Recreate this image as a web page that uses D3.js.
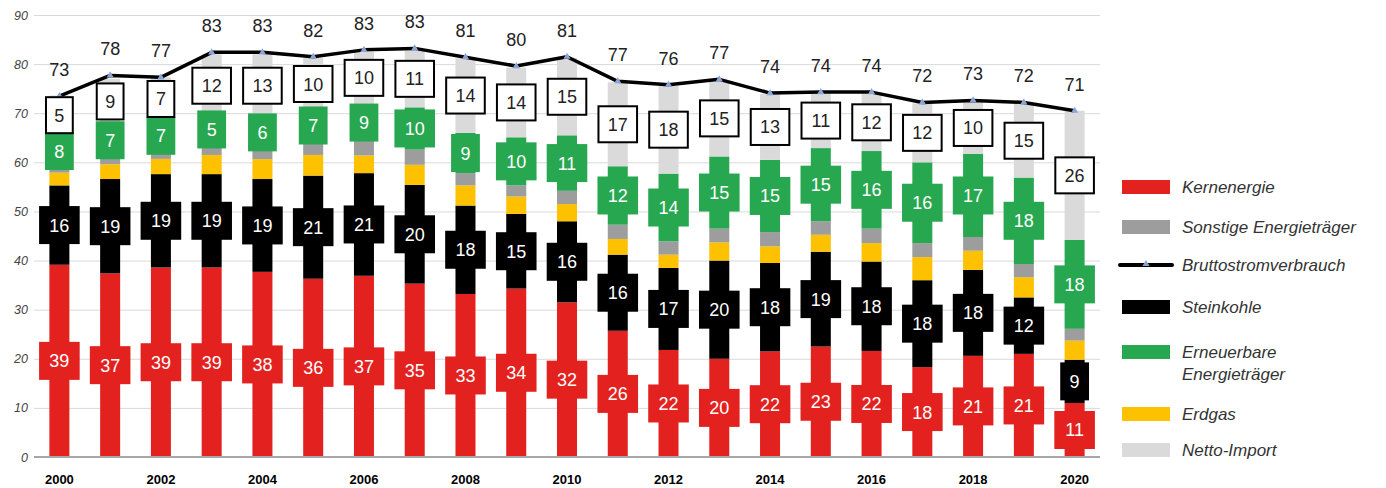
<!DOCTYPE html>
<html>
<head>
<meta charset="utf-8">
<script src="https://cdn.jsdelivr.net/npm/d3@7"></script>
<style>
  body { margin: 0; background: #fff; }
  svg { display: block; font-family: 'Liberation Sans', Arial, sans-serif; }
</style>
</head>
<body>
<div id="chart"></div>
<script>
// Data (TWh)
const years = d3.range(2000, 2021);
const kern = [39.15, 37.4, 38.6, 38.6, 37.7, 36.3, 36.9, 35.3, 33.2, 34.3, 31.5, 25.7, 21.8, 20.0, 21.5, 22.5, 21.6, 18.3, 20.6, 21.0, 11.0];
const steinkohle = [16.15, 19.2, 19.0, 19.0, 18.9, 21.0, 20.9, 20.1, 18.0, 15.2, 16.5, 15.5, 16.7, 20.0, 18.0, 19.3, 18.2, 17.7, 17.5, 11.5, 8.8];
const erdgas = [2.6, 3.0, 3.1, 3.9, 4.05, 4.2, 3.6, 4.1, 4.1, 3.55, 3.5, 3.2, 2.7, 3.7, 3.4, 3.45, 3.75, 4.7, 3.9, 4.1, 3.9];
const sonstige = [1.1, 1.6, 1.6, 2.7, 2.35, 2.9, 2.9, 3.1, 2.5, 2.25, 2.7, 2.9, 2.7, 2.8, 2.9, 2.75, 2.95, 2.85, 2.8, 2.7, 2.4];
const erneuerbar = [6.6, 6.6, 6.2, 5.0, 6.2, 6.2, 7.6, 8.6, 8.2, 9.8, 11.3, 11.9, 13.8, 14.7, 14.7, 14.9, 15.8, 16.45, 16.9, 17.6, 18.1];
const nettoImport = [8.0, 9.2, 8.8, 12.8, 12.8, 10.7, 10.6, 11.6, 15.2, 14.2, 15.7, 17.1, 17.9, 15.5, 13.4, 11.2, 11.7, 12.0, 10.6, 15.0, 26.3];
const brutto = [73.5, 77.7, 77.3, 82.4, 82.4, 81.5, 82.9, 83.2, 81.4, 79.6, 81.5, 76.5, 75.8, 76.9, 74.1, 74.3, 74.3, 72.2, 72.6, 72.2, 70.5];

// Printed labels
const kernLabels = [39, 37, 39, 39, 38, 36, 37, 35, 33, 34, 32, 26, 22, 20, 22, 23, 22, 18, 21, 21, 11];
const steinLabels = [16, 19, 19, 19, 19, 21, 21, 20, 18, 15, 16, 16, 17, 20, 18, 19, 18, 18, 18, 12, 9];
const erneuerbarLabels = [8, 7, 7, 5, 6, 7, 9, 10, 9, 10, 11, 12, 14, 15, 15, 15, 16, 16, 17, 18, 18];
const importLabels = [5, 9, 7, 12, 13, 10, 10, 11, 14, 14, 15, 17, 18, 15, 13, 11, 12, 12, 10, 15, 26];
const bruttoLabels = [73, 78, 77, 83, 83, 82, 83, 83, 81, 80, 81, 77, 76, 77, 74, 74, 74, 72, 73, 72, 71];
const yTicks = [0, 10, 20, 30, 40, 50, 60, 70, 80, 90];
const xTicks = [2000, 2002, 2004, 2006, 2008, 2010, 2012, 2014, 2016, 2018, 2020];

// Colors
const colors = {
  kern: '#e3211f',
  steinkohle: '#000000',
  erdgas: '#fdc100',
  sonstige: '#9d9d9d',
  erneuerbar: '#27a850',
  nettoImport: '#d9dad9',
};

const keys = ['kern', 'steinkohle', 'erdgas', 'sonstige', 'erneuerbar', 'nettoImport'];
const table = years.map((yr, i) => ({
  year: yr,
  kern: kern[i],
  steinkohle: steinkohle[i],
  erdgas: erdgas[i],
  sonstige: sonstige[i],
  erneuerbar: erneuerbar[i],
  nettoImport: nettoImport[i],
}));

const width = 1386;
const height = 488;
const plotLeft = 34, plotRight = 1100, plotTop = 15, plotBottom = 457;

const svg = d3.select('#chart').append('svg')
  .attr('width', width)
  .attr('height', height);

const x = d3.scaleBand()
  .domain(years)
  .range([plotLeft, plotRight])
  .paddingInner(0.606)
  .paddingOuter(0.303);

const y = d3.scaleLinear()
  .domain([0, 90])
  .range([plotBottom, plotTop]);

const cx = (yr) => x(yr) + x.bandwidth() / 2;

// Grid + y labels
const yAxis = svg.append('g')
  .attr('transform', `translate(${plotLeft},0)`)
  .call(d3.axisLeft(y).tickValues(yTicks).tickSize(-(plotRight - plotLeft)).tickPadding(6));
yAxis.select('.domain').remove();
yAxis.selectAll('line').attr('stroke', '#d9d9d9');
yAxis.selectAll('text')
  .attr('font-size', 12.5)
  .attr('font-style', 'italic')
  .attr('fill', '#444')
  .attr('font-family', "'Liberation Sans', Arial, sans-serif");

// Stacked bars
const stacked = d3.stack().keys(keys)(table);
svg.append('g')
  .selectAll('g')
  .data(stacked)
  .join('g')
  .attr('fill', (s) => colors[s.key])
  .selectAll('rect')
  .data((s) => s)
  .join('rect')
  .attr('x', (d) => x(d.data.year))
  .attr('width', x.bandwidth())
  .attr('y', (d) => y(d[1]))
  .attr('height', (d) => y(d[0]) - y(d[1]));

// Baseline
svg.append('line')
  .attr('x1', plotLeft).attr('x2', plotRight)
  .attr('y1', y(0)).attr('y2', y(0))
  .attr('stroke', '#a6a6a6')
  .attr('stroke-width', 2);

// Bruttostromverbrauch line
const line = d3.line()
  .x((d, i) => cx(years[i]))
  .y((d) => y(d));
svg.append('path')
  .datum(brutto)
  .attr('d', line)
  .attr('fill', 'none')
  .attr('stroke', '#000')
  .attr('stroke-width', 3.5)
  .attr('stroke-linejoin', 'round');
svg.append('g')
  .selectAll('path')
  .data(brutto)
  .join('path')
  .attr('d', d3.symbol(d3.symbolTriangle, 22))
  .attr('transform', (d, i) => `translate(${cx(years[i])},${y(d)})`)
  .attr('fill', '#8aa4d6');

// Label boxes
const labelled = [
  { key: 'kern', labels: kernLabels },
  { key: 'steinkohle', labels: steinLabels },
  { key: 'erneuerbar', labels: erneuerbarLabels },
  { key: 'nettoImport', labels: importLabels },
];
labelled.forEach((ls) => {
  const s = stacked.find((t) => t.key === ls.key);
  const isImport = ls.key === 'nettoImport';
  const g = svg.append('g');
  s.forEach((d, i) => {
    const txt = String(ls.labels[i]);
    const w = 17 + 11.8 * txt.length;
    const h = isImport ? 36 : 38;
    const my = y((d[0] + d[1]) / 2);
    g.append('rect')
      .attr('x', cx(years[i]) - w / 2 + (isImport ? 1 : 0))
      .attr('y', my - h / 2)
      .attr('width', w - (isImport ? 2 : 0))
      .attr('height', h)
      .attr('fill', isImport ? '#fff' : colors[ls.key])
      .attr('stroke', isImport ? '#000' : 'none')
      .attr('stroke-width', 2);
    g.append('text')
      .attr('x', cx(years[i]))
      .attr('y', my + 6.5)
      .attr('text-anchor', 'middle')
      .attr('font-size', 18)
      .attr('fill', isImport ? '#222' : '#fff')
      .text(txt);
  });
});

// Total labels
svg.append('g')
  .selectAll('text')
  .data(brutto)
  .join('text')
  .attr('x', (d, i) => cx(years[i]))
  .attr('y', (d) => y(d) - 20)
  .attr('text-anchor', 'middle')
  .attr('font-size', 18)
  .attr('fill', '#222')
  .text((d, i) => bruttoLabels[i]);

// x labels
const xAxis = svg.append('g')
  .attr('transform', `translate(0,${plotBottom})`)
  .call(d3.axisBottom(x).tickValues(xTicks).tickSize(0).tickPadding(18));
xAxis.select('.domain').remove();
xAxis.selectAll('text')
  .attr('font-size', 13)
  .attr('font-weight', 'bold')
  .attr('fill', '#000')
  .attr('font-family', "'Liberation Sans', Arial, sans-serif");

// Legend
const legend = [
  { name: ['Kernenergie'], color: colors.kern, cy: 187 },
  { name: ['Sonstige Energieträger'], color: colors.sonstige, cy: 227 },
  { name: ['Bruttostromverbrauch'], line: true, cy: 265 },
  { name: ['Steinkohle'], color: colors.steinkohle, cy: 307 },
  { name: ['Erneuerbare', 'Energieträger'], color: colors.erneuerbar, cy: 352 },
  { name: ['Erdgas'], color: colors.erdgas, cy: 414 },
  { name: ['Netto-Import'], color: colors.nettoImport, cy: 450 },
];
const lg = svg.append('g');
legend.forEach((it) => {
  if (it.line) {
    lg.append('line')
      .attr('x1', 1120).attr('x2', 1172)
      .attr('y1', it.cy).attr('y2', it.cy)
      .attr('stroke', '#000')
      .attr('stroke-width', 4)
      .attr('stroke-linecap', 'round');
    lg.append('path')
      .attr('d', d3.symbol(d3.symbolTriangle, 22))
      .attr('transform', `translate(1146,${it.cy - 1})`)
      .attr('fill', '#8aa4d6');
  } else {
    lg.append('rect')
      .attr('x', 1122).attr('y', it.cy - 7)
      .attr('width', 48).attr('height', 14)
      .attr('fill', it.color);
  }
  it.name.forEach((t, j) => {
    lg.append('text')
      .attr('x', 1182)
      .attr('y', it.cy + 6 + j * 21.6)
      .attr('font-size', 17)
      .attr('font-style', 'italic')
      .attr('fill', '#333')
      .text(t);
  });
});
</script>
</body>
</html>
